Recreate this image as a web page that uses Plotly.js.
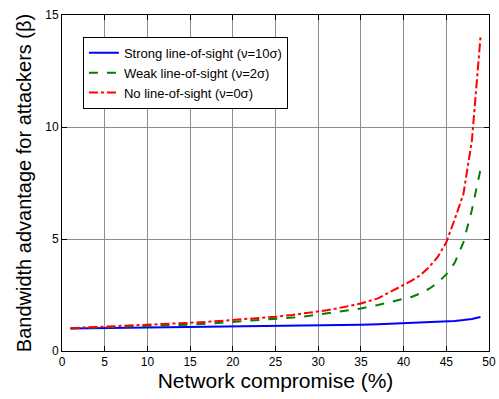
<!DOCTYPE html>
<html>
<head>
<meta charset="utf-8">
<script src="https://cdn.plot.ly/plotly-3.0.1.min.js"></script>
<style>html,body{margin:0;padding:0;background:#fff;}#chart{width:499px;height:399px;}</style>
</head>
<body>
<div id="chart"></div>
<script>
const compromise = [1,3,5,7,9,11,13,15,17,19,21,23,25,27,29,31,33,35,37,39,41,42,43,44,45,46,47,48,49];
const strongLOS = [1.00,1.01,1.02,1.03,1.04,1.05,1.05,1.06,1.06,1.07,1.08,1.08,1.09,1.10,1.11,1.13,1.15,1.17,1.19,1.22,1.24,1.25,1.27,1.29,1.31,1.34,1.38,1.43,1.52];
const weakLOS = [1.01,1.03,1.05,1.07,1.09,1.12,1.15,1.18,1.22,1.27,1.31,1.36,1.42,1.49,1.57,1.67,1.78,1.90,2.05,2.22,2.42,2.58,2.78,3.05,3.42,3.95,4.85,6.30,8.10];
const noLOS = [1.02,1.05,1.08,1.11,1.15,1.18,1.22,1.26,1.30,1.35,1.40,1.46,1.53,1.61,1.70,1.82,1.96,2.12,2.35,2.75,3.15,3.40,3.75,4.20,4.85,5.90,7.00,9.40,14.0];
const seriesNames = ['Strong line-of-sight (\u03bd=10\u03c3)','Weak line-of-sight (\u03bd=2\u03c3)','No line-of-sight (\u03bd=0\u03c3)'];
const xTicks = [0,5,10,15,20,25,30,35,40,45,50];
const yTicks = [0,5,10,15];

const font = 'Arial, "Liberation Sans", sans-serif';
const traces = [
  {x: compromise, y: strongLOS, name: seriesNames[0], mode: 'lines', line: {color: '#0000ff', width: 2, dash: 'solid'}},
  {x: compromise, y: weakLOS, name: seriesNames[1], mode: 'lines', line: {color: '#008000', width: 2, dash: 'dash'}},
  {x: compromise, y: noLOS, name: seriesNames[2], mode: 'lines', line: {color: '#ff0000', width: 2, dash: 'dashdot'}}
];
const axisCommon = {
  showline: true, linecolor: '#000', linewidth: 1, mirror: 'ticks',
  ticks: 'inside', ticklen: 5, tickcolor: '#000',
  showgrid: true, gridcolor: '#8c8c8c', gridwidth: 1, zeroline: false,
  tickfont: {family: font, size: 12, color: '#000'}
};
const layout = {
  width: 499, height: 399,
  margin: {l: 62, r: 10, t: 15, b: 48},
  paper_bgcolor: '#fff', plot_bgcolor: '#fff',
  font: {family: font, color: '#000'},
  showlegend: true,
  legend: {
    x: 0.049, y: 0.935, xanchor: 'left', yanchor: 'top',
    bgcolor: '#fff', bordercolor: '#000', borderwidth: 1,
    font: {family: font, size: 13, color: '#000'},
    tracegroupgap: 0
  },
  xaxis: Object.assign({}, axisCommon, {
    range: [0, 50], tickvals: xTicks, ticktext: xTicks.map(String),
    title: {text: 'Network compromise (%)', font: {family: font, size: 21, color: '#000'}, standoff: 2}
  }),
  yaxis: Object.assign({}, axisCommon, {
    range: [0, 15], tickvals: yTicks, ticktext: yTicks.map(String),
    title: {text: 'Bandwidth advantage for attackers (\u03b2)', font: {family: font, size: 20, color: '#000'}, standoff: 8}
  })
};
Plotly.newPlot('chart', traces, layout, {displayModeBar: false, staticPlot: true});
</script>
</body>
</html>
